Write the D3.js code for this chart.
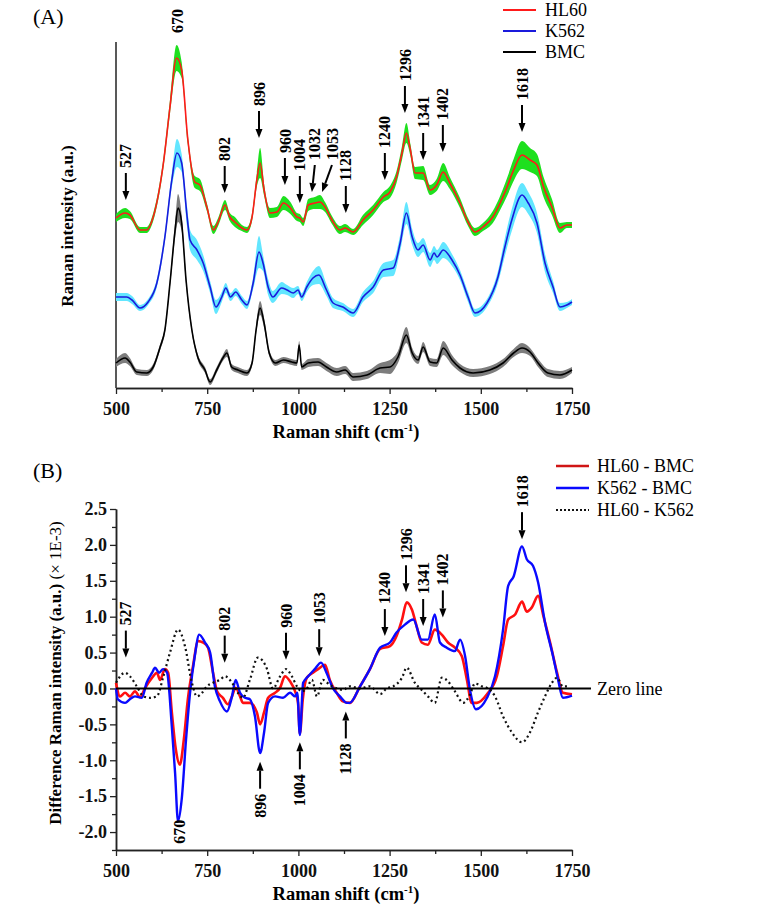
<!DOCTYPE html>
<html>
<head>
<meta charset="utf-8">
<script src="https://cdn.jsdelivr.net/npm/d3@7"></script>
<style>
  body { margin: 0; background: #fff; }
  svg text { font-family: "Liberation Serif", "Times New Roman", serif; }
</style>
</head>
<body>
<div id="chart-area"></div>
<script>

// DATA ------------------------------------------------------------

// Panel A: [Raman shift, mean intensity, SD] (arbitrary units, stacked with offsets)
var hl60Spectrum = [[500,170,4],[525,175,5],[538,173,4],[566,158,3],[584,158,3],[602,171,4],[630,225,5],[648,281,7],[666,330,13],[680,318,8],[697,248,5],[716,206,6],[730,203,6],[749,181,4],[767,158,4],[780,166,4],[799,183,5],[812,171,4],[826,166,5],[845,160,3],[859,158,3],[873,171,4],[886,208,7],[895,225,15],[906,198,6],[922,175,5],[941,176,5],[959,185,7],[978,180,6],[996,171,4],[1004,170,4],[1013,166,4],[1027,183,6],[1045,185,6],[1059,186,7],[1073,181,5],[1092,168,4],[1114,158,4],[1128,160,4],[1150,156,3],[1177,168,5],[1205,178,5],[1233,191,5],[1251,196,6],[1269,211,6],[1284,235,7],[1296,255,10],[1307,238,6],[1320,215,6],[1342,215,7],[1361,198,5],[1379,203,6],[1397,216,9],[1415,205,6],[1443,185,5],[1465,166,4],[1484,156,4],[1506,161,4],[1533,171,6],[1553,185,7],[1572,201,9],[1590,218,11],[1613,233,14],[1635,228,12],[1654,223,11],[1672,201,10],[1695,181,8],[1717,160,5],[1736,163,3],[1750,163,3]];
var k562Spectrum = [[500,91,4],[529,91,4],[544,88,4],[566,80,3],[588,86,3],[612,105,4],[634,151,5],[653,208,7],[667,235,14],[680,225,9],[695,171,10],[703,148,10],[722,138,10],[739,125,8],[758,101,6],[774,81,7],[790,91,5],[801,100,5],[814,91,4],[828,96,4],[845,88,4],[859,83,4],[876,105,6],[892,136,16],[903,125,8],[917,101,8],[930,91,6],[954,100,6],[969,98,5],[986,95,5],[999,98,4],[1009,91,4],[1023,101,5],[1040,110,7],[1056,113,9],[1077,98,6],[1095,85,5],[1122,81,4],[1150,75,4],[1177,91,5],[1205,101,6],[1233,118,7],[1260,120,8],[1279,145,8],[1296,175,11],[1312,151,8],[1328,138,7],[1342,143,7],[1361,128,7],[1372,135,7],[1380,131,7],[1397,138,8],[1421,128,6],[1443,113,5],[1465,91,5],[1484,75,4],[1517,85,4],[1547,111,6],[1566,141,9],[1585,168,11],[1613,193,12],[1630,185,11],[1654,165,10],[1676,125,9],[1698,101,6],[1717,81,4],[1736,83,3],[1750,86,3]];
var bmcSpectrum = [[500,25,4],[525,30,5],[538,26,4],[557,16,3],[584,15,3],[602,21,3],[621,41,3],[634,58,3],[648,105,4],[662,158,8],[670,180,14],[680,165,8],[692,108,4],[708,58,3],[725,30,3],[744,18,3],[758,6,3],[776,18,3],[793,30,3],[804,35,4],[817,21,3],[834,18,3],[859,15,3],[873,25,3],[884,58,4],[895,80,7],[906,65,5],[920,35,3],[937,25,3],[959,28,3],[982,26,3],[996,25,3],[1002,43,4],[1009,21,3],[1027,25,4],[1054,26,4],[1077,21,4],[1105,16,4],[1128,18,4],[1150,11,4],[1188,13,4],[1224,20,5],[1251,21,7],[1273,31,6],[1296,53,8],[1312,35,5],[1328,28,4],[1342,41,5],[1361,26,4],[1379,25,4],[1397,40,7],[1421,28,5],[1443,20,4],[1479,15,4],[1525,18,4],[1561,25,4],[1590,35,4],[1613,40,5],[1635,36,4],[1657,25,4],[1684,15,4],[1717,13,4],[1750,18,3]];

// Panel B: [Raman shift, difference intensity (x 1E-3)]
var hl60MinusBmc = [[500,0.08],[511,-0.11],[525,-0.06],[538,-0.11],[552,-0.04],[566,-0.12],[579,0],[599,0.15],[612,0.22],[621,0.12],[634,0.27],[643,0.22],[653,-0.33],[664,-0.85],[675,-1.06],[686,-0.71],[697,-0.15],[711,0.31],[725,0.66],[739,0.64],[752,0.57],[766,0.22],[777,-0.04],[793,-0.13],[807,-0.22],[818,-0.11],[828,0.01],[840,-0.11],[848,-0.2],[867,-0.2],[886,-0.33],[895,-0.5],[906,-0.33],[917,-0.13],[936,-0.06],[950,0.01],[963,0.17],[977,0.1],[991,-0.04],[999,-0.2],[1004,-0.63],[1012,-0.15],[1023,0.15],[1040,0.22],[1054,0.27],[1073,0.33],[1086,0.12],[1105,-0.06],[1122,-0.18],[1141,-0.2],[1169,0.03],[1196,0.27],[1224,0.55],[1251,0.59],[1269,0.73],[1284,0.96],[1297,1.2],[1311,1.1],[1324,0.87],[1338,0.64],[1355,0.61],[1374,0.82],[1393,0.75],[1410,0.64],[1429,0.57],[1448,0.45],[1462,0.12],[1475,-0.2],[1489,-0.2],[1517,-0.08],[1544,0.17],[1561,0.59],[1575,0.96],[1594,1.03],[1613,1.21],[1626,1.07],[1640,1.13],[1657,1.29],[1672,1.0],[1690,0.64],[1709,0.22],[1725,-0.06],[1750,-0.08]];
var k562MinusBmc = [[500,0],[505,-0.15],[525,-0.2],[538,-0.15],[552,-0.11],[571,-0.13],[584,0.08],[599,0.22],[607,0.29],[618,0.22],[629,0.27],[640,0.22],[653,-0.53],[662,-1.18],[670,-1.85],[680,-1.55],[692,-0.71],[703,-0.06],[716,0.45],[728,0.75],[744,0.64],[758,0.5],[771,0.03],[785,-0.18],[804,-0.32],[818,-0.11],[828,0.12],[840,-0.06],[854,-0.13],[867,-0.15],[881,-0.39],[895,-0.9],[906,-0.61],[917,-0.2],[936,-0.11],[958,-0.13],[977,-0.06],[991,-0.11],[997,-0.06],[1004,-0.65],[1013,0.08],[1027,0.17],[1045,0.27],[1062,0.36],[1077,0.22],[1095,0],[1114,-0.11],[1133,-0.2],[1141,-0.2],[1169,0.03],[1196,0.27],[1224,0.57],[1251,0.64],[1269,0.78],[1292,0.89],[1315,0.96],[1338,0.68],[1355,0.68],[1374,1.03],[1388,0.64],[1406,0.57],[1429,0.52],[1443,0.68],[1457,0.45],[1470,-0.01],[1487,-0.29],[1517,-0.13],[1539,0.17],[1561,0.82],[1575,1.43],[1590,1.56],[1613,1.98],[1626,1.8],[1643,1.71],[1657,1.48],[1676,0.92],[1698,0.45],[1712,0.12],[1725,-0.13],[1750,-0.1]];
var hl60MinusK562 = [[500,0.08],[525,0.22],[538,0.17],[557,0.03],[575,-0.11],[593,-0.13],[612,-0.11],[630,0.17],[648,0.5],[670,0.82],[689,0.59],[708,0.08],[722,-0.11],[736,-0.06],[749,0.03],[766,0.08],[785,0.12],[799,0.17],[818,0.08],[834,-0.06],[848,-0.13],[867,0.12],[889,0.43],[914,0.27],[930,0],[950,0.17],[966,0.27],[982,0.17],[996,0.03],[1009,-0.04],[1023,0],[1037,0.12],[1051,-0.11],[1067,0.12],[1086,0.05],[1105,0],[1122,-0.02],[1141,0.03],[1169,0],[1196,0.03],[1224,-0.08],[1242,0],[1260,0.03],[1284,0.15],[1297,0.29],[1319,0.08],[1338,-0.02],[1355,-0.11],[1374,-0.2],[1393,0.15],[1410,0.1],[1429,-0.04],[1452,-0.2],[1470,-0.09],[1484,0.07],[1503,0.03],[1520,0],[1539,-0.11],[1561,-0.39],[1585,-0.61],[1613,-0.75],[1635,-0.61],[1657,-0.33],[1676,-0.11],[1695,0.08],[1709,0.15],[1725,0.03],[1744,0.03]];
var zeroLine = [[500,0],[1802,0]];

// Peak labels: [label, arrow tip shift, arrow tip value, arrow tail shift]
var peaksA = [["527",527,188,527],["802",798,195,798],["896",892,250,892],["960",963,203,963],["1004",1004,185,1004],["1032",1037,196,1045],["1053",1065,196,1092],["1128",1130,175,1130],["1240",1237,208,1237],["1296",1292,275,1292],["1341",1342,228,1342],["1402",1396,236,1396],["1618",1613,256,1613]];
var topPeakA = ["670", 667, 355];
var peaksBDown = [["527",527,0.43],["802",798,0.36],["960",966,0.40],["1053",1057,0.45],["1240",1237,0.73],["1296",1295,1.34],["1341",1342,0.87],["1402",1396,0.99],["1618",1613,2.08]];
var peaksBUp = [["896",895,-1.02],["1004",1004,-0.75],["1128",1130,-0.32]];
var bottomPeakB = ["670", 675, -1.83];

var xTicks = [500, 750, 1000, 1250, 1500, 1750];
var xMinorTicks = [625, 875, 1125, 1375, 1625];
var yTicksB = [-2.0, -1.5, -1.0, -0.5, 0.0, 0.5, 1.0, 1.5, 2.0, 2.5];
var yMinorTicksB = [-2.25, -1.75, -1.25, -0.75, -0.25, 0.25, 0.75, 1.25, 1.75, 2.25];

var legendA = ["HL60", "K562", "BMC"];
var legendB = ["HL60 - BMC", "K562 - BMC", "HL60 - K562"];


// SVG -------------------------------------------------------------

var svg = d3.select("#chart-area").append("svg")
    .attr("width", 769)
    .attr("height", 915);

var x = d3.scaleLinear().domain([500, 1750]).range([116, 572]);
var yA = d3.scaleLinear().domain([0, 346]).range([388, 42]);
var yB = d3.scaleLinear().domain([-2.25, 2.5]).range([850, 509]);

var axisColor = "#222";


// AXES ------------------------------------------------------------

function styleAxis(g) {
    g.select(".domain").attr("stroke", axisColor).attr("stroke-width", 1.5);
    g.selectAll(".tick line").attr("stroke", axisColor).attr("stroke-width", 1.3);
    g.selectAll(".tick text")
        .attr("fill", "#111")
        .attr("font-size", "18px")
        .attr("font-weight", "bold")
        .style("font-family", "'Liberation Serif', serif");
}

function drawXAxis(yPos) {
    var minor = svg.append("g")
        .attr("transform", "translate(0, " + yPos + ")")
        .call(d3.axisBottom(x).tickValues(xMinorTicks).tickSize(4).tickSizeOuter(0).tickFormat(""));
    styleAxis(minor);
    var major = svg.append("g")
        .attr("transform", "translate(0, " + yPos + ")")
        .call(d3.axisBottom(x).tickValues(xTicks).tickSize(6).tickSizeOuter(0).tickPadding(8)
            .tickFormat(d3.format("d")));
    styleAxis(major);
}

function axisTitle(xPos, yPos) {
    var t = svg.append("text")
        .attr("x", xPos)
        .attr("y", yPos)
        .attr("text-anchor", "middle")
        .attr("font-size", "18.5px")
        .attr("font-weight", "bold");
    t.append("tspan").text("Raman shift (cm");
    t.append("tspan").attr("dy", -7).attr("font-size", "11px").text("-1");
    t.append("tspan").attr("dy", 7).text(")");
}

// Panel A axes
drawXAxis(388);
svg.append("line")
    .attr("x1", x(500)).attr("x2", x(500))
    .attr("y1", yA(346)).attr("y2", yA(0))
    .attr("stroke", axisColor).attr("stroke-width", 1.5);
axisTitle(346, 438);
svg.append("text")
    .attr("transform", "translate(67, 226) rotate(-90)")
    .attr("text-anchor", "middle")
    .attr("dy", "0.35em")
    .attr("font-size", "17px")
    .attr("font-weight", "bold")
    .text("Raman intensity (a.u.)");

// Panel B axes
drawXAxis(850);
var yMinorB = svg.append("g")
    .attr("transform", "translate(116, 0)")
    .call(d3.axisLeft(yB).tickValues(yMinorTicksB).tickSize(4).tickSizeOuter(0).tickFormat(""));
styleAxis(yMinorB);
var yAxisB = svg.append("g")
    .attr("transform", "translate(116, 0)")
    .call(d3.axisLeft(yB).tickValues(yTicksB).tickSize(6).tickSizeOuter(0)
        .tickFormat(d => d.toFixed(1)));
styleAxis(yAxisB);
axisTitle(346, 900);
var yTitleB = svg.append("text")
    .attr("transform", "translate(55, 673) rotate(-90)")
    .attr("text-anchor", "middle")
    .attr("dy", "0.35em")
    .attr("font-size", "17px");
yTitleB.append("tspan").attr("font-weight", "bold").text("Difference Raman intensity (a.u.) ");
yTitleB.append("tspan").text("(\u00d7 1E-3)");

// Panel letters
svg.append("text").attr("x", 33).attr("y", 24).attr("font-size", "22px").text("(A)");
svg.append("text").attr("x", 33).attr("y", 478).attr("font-size", "22px").text("(B)");


// PANEL A SPECTRA --------------------------------------------------

var seriesA = [
    { data: bmcSpectrum, line: "#000000", band: "#7d7d7d" },
    { data: k562Spectrum, line: "#1a1adc", band: "#62e6ff" },
    { data: hl60Spectrum, line: "#ff1a1a", band: "#1ee01e" }
];

var bandA = d3.area()
    .x(d => x(d[0]))
    .y0(d => yA(d[1] - d[2]))
    .y1(d => yA(d[1] + d[2]))
    .curve(d3.curveMonotoneX);
var lineA = d3.line()
    .x(d => x(d[0]))
    .y(d => yA(d[1]))
    .curve(d3.curveMonotoneX);

seriesA.forEach(s => {
    svg.append("path").datum(s.data)
        .attr("d", bandA)
        .attr("fill", s.band);
});
seriesA.forEach(s => {
    svg.append("path").datum(s.data)
        .attr("d", lineA)
        .attr("fill", "none")
        .attr("stroke", s.line)
        .attr("stroke-width", 1.6);
});


// PANEL B DIFFERENCES -----------------------------------------------

var lineB = d3.line()
    .x(d => x(d[0]))
    .y(d => yB(d[1]))
    .curve(d3.curveMonotoneX);

svg.append("path").datum(hl60MinusBmc)
    .attr("d", lineB).attr("fill", "none")
    .attr("stroke", "#ff1010").attr("stroke-width", 2.6);
svg.append("path").datum(k562MinusBmc)
    .attr("d", lineB).attr("fill", "none")
    .attr("stroke", "#0a0aff").attr("stroke-width", 2.4);
svg.append("path").datum(hl60MinusK562)
    .attr("d", lineB).attr("fill", "none")
    .attr("stroke", "#111").attr("stroke-width", 2.2)
    .attr("stroke-dasharray", "2,3");
svg.append("path").datum(zeroLine)
    .attr("d", d3.line().x(d => x(d[0])).y(d => yB(d[1])))
    .attr("stroke", "#000").attr("stroke-width", 2);
svg.append("text")
    .attr("x", x(zeroLine[1][0]) + 6)
    .attr("y", yB(0))
    .attr("dy", "0.35em")
    .attr("font-size", "18px")
    .text("Zero line");


// PEAK LABELS ------------------------------------------------------

var arrowLength = 27;

function arrow(x1, y1, x2, y2) { // tail (x1, y1) to tip (x2, y2)
    var len = Math.hypot(x2 - x1, y2 - y1);
    var ux = (x2 - x1) / len, uy = (y2 - y1) / len;
    var bx = x2 - ux * 9, by = y2 - uy * 9;
    svg.append("line")
        .attr("x1", x1).attr("y1", y1).attr("x2", bx).attr("y2", by)
        .attr("stroke", "#000").attr("stroke-width", 2);
    svg.append("path")
        .attr("d", "M" + x2 + "," + y2 +
            "L" + (bx - uy * 3.5) + "," + (by + ux * 3.5) +
            "L" + (bx + uy * 3.5) + "," + (by - ux * 3.5) + "Z")
        .attr("fill", "#000");
}

function peakText(px, py, label, anchor) {
    svg.append("text")
        .attr("transform", "translate(" + px + ", " + py + ") rotate(-90)")
        .attr("text-anchor", anchor)
        .attr("dy", "0.35em")
        .attr("font-size", "16px")
        .attr("font-weight", "bold")
        .text(label);
}

peaksA.forEach(p => {
    var tipX = x(p[1]), tipY = yA(p[2]);
    var tailX = x(p[3]), tailY = tipY - arrowLength;
    arrow(tailX, tailY, tipX, tipY);
    peakText(tailX, tailY - 5, p[0], "start");
});
peakText(x(topPeakA[1]), yA(topPeakA[2]), topPeakA[0], "start");

peaksBDown.forEach(p => {
    var tipX = x(p[1]), tipY = yB(p[2]);
    arrow(tipX, tipY - arrowLength, tipX, tipY);
    peakText(tipX, tipY - arrowLength - 5, p[0], "start");
});
peaksBUp.forEach(p => {
    var tipX = x(p[1]), tipY = yB(p[2]);
    arrow(tipX, tipY + arrowLength, tipX, tipY);
    peakText(tipX, tipY + arrowLength + 5, p[0], "end");
});
peakText(x(bottomPeakB[1]), yB(bottomPeakB[2]), bottomPeakB[0], "end");


// LEGENDS ----------------------------------------------------------

var legendAColors = ["#ff1a1a", "#1a1adc", "#000000"];
legendA.forEach((name, i) => {
    var ly = 10 + i * 21;
    svg.append("line")
        .attr("x1", 503).attr("x2", 536).attr("y1", ly).attr("y2", ly)
        .attr("stroke", legendAColors[i]).attr("stroke-width", 1.8);
    svg.append("text")
        .attr("x", 545).attr("y", ly).attr("dy", "0.35em")
        .attr("font-size", "18px")
        .text(name);
});

var legendBColors = ["#d01515", "#0a0aff", "#111"];
legendB.forEach((name, i) => {
    var ly = 466 + i * 22;
    svg.append("line")
        .attr("x1", 556).attr("x2", 589).attr("y1", ly).attr("y2", ly)
        .attr("stroke", legendBColors[i]).attr("stroke-width", i == 2 ? 2.2 : 2.6)
        .attr("stroke-dasharray", i == 2 ? "2,2" : null);
    svg.append("text")
        .attr("x", 597).attr("y", ly).attr("dy", "0.35em")
        .attr("font-size", "18px")
        .text(name);
});

</script>
</body>
</html>
